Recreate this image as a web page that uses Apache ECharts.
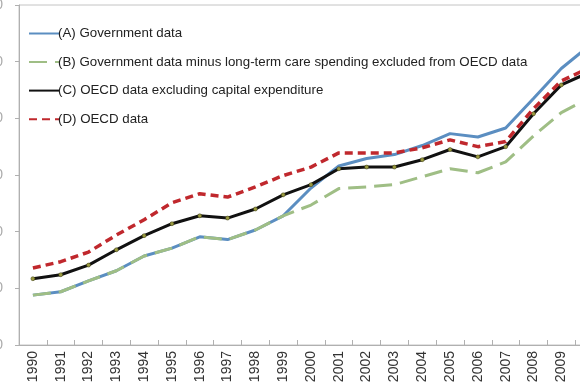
<!DOCTYPE html>
<html>
<head>
<meta charset="utf-8">
<script src="https://cdn.jsdelivr.net/npm/echarts@6/dist/echarts.min.js"></script>
<style>html,body{margin:0;padding:0;background:#fff;}#c{width:580px;height:386px;}</style>
</head>
<body>
<div id="c"></div>
<script>
var years = ['1990','1991','1992','1993','1994','1995','1996','1997','1998','1999','2000','2001','2002','2003','2004','2005','2006','2007','2008','2009','2010'];
var seriesNames = [
  '(A) Government data',
  '(B) Government data minus long-term care spending excluded from OECD data',
  '(C) OECD data excluding capital expenditure',
  '(D) OECD data'
];
var govData      = [2.88,2.94,3.13,3.31,3.57,3.71,3.91,3.86,4.03,4.28,4.77,5.16,5.29,5.36,5.52,5.73,5.67,5.83,6.35,6.88,7.28];
var govMinusLtc  = [2.88,2.94,3.13,3.31,3.57,3.71,3.91,3.86,4.03,4.28,4.47,4.76,4.79,4.83,4.97,5.11,5.04,5.23,5.69,6.10,6.36];
var oecdExclCap  = [3.17,3.24,3.41,3.68,3.93,4.14,4.28,4.24,4.40,4.65,4.83,5.11,5.14,5.14,5.27,5.45,5.32,5.50,6.08,6.59,6.81];
var oecdData     = [3.36,3.47,3.64,3.94,4.21,4.51,4.67,4.61,4.79,4.99,5.14,5.39,5.39,5.39,5.48,5.62,5.50,5.59,6.17,6.66,6.89];
var yMin = 2, yMax = 8, yStep = 1;

var chart = echarts.init(document.getElementById('c'), null, {renderer:'canvas'});
var font = '"Liberation Sans", Arial, sans-serif';
var hideSym = {opacity: 0};
chart.setOption({
  animation: false,
  backgroundColor: '#ffffff',
  grid: {left: 19, right: -23, top: 5, bottom: 41, containLabel: false, outerBoundsMode: 'none',
         show: true, borderColor: '#c4c4c4', borderWidth: 1, backgroundColor: 'transparent'},
  legend: {
    orient: 'vertical', left: 23, top: 22, itemWidth: 31, itemHeight: 14, itemGap: 15.5,
    textStyle: {fontFamily: font, fontSize: 13.3, color: '#222', padding: [0,0,0,-7]},
    data: [
      {name: seriesNames[0], itemStyle: hideSym},
      {name: seriesNames[1], itemStyle: hideSym},
      {name: seriesNames[2], itemStyle: hideSym},
      {name: seriesNames[3], itemStyle: hideSym}
    ]
  },
  xAxis: {
    type: 'category', data: years, boundaryGap: true,
    axisLine: {lineStyle: {color: '#b0b0b0', width: 1}},
    axisTick: {show: true, inside: true, length: 5, interval: 0, lineStyle: {color: '#b0b0b0'}},
    axisLabel: {interval: 0, rotate: 90, margin: 6, fontFamily: font, fontSize: 14, color: '#333', hideOverlap: false},
    splitLine: {show: false}
  },
  yAxis: {
    type: 'value', min: yMin, max: yMax, interval: yStep,
    axisLine: {show: true, lineStyle: {color: '#b0b0b0', width: 1}},
    axisTick: {show: true, length: 4, lineStyle: {color: '#b0b0b0'}},
    axisLabel: {margin: 16, fontFamily: font, fontSize: 14, color: '#aaa', formatter: function(v){return v.toFixed(1);}},
    splitLine: {show: false}
  },
  series: [
    {name: seriesNames[0], type: 'line', data: govData, symbol: 'none', z: 2,
     lineStyle: {color: '#5b8ec1', width: 3}, itemStyle: {color: '#5b8ec1'}},
    {name: seriesNames[1], type: 'line', data: govMinusLtc, symbol: 'none', z: 3,
     lineStyle: {color: '#9fbe85', width: 3, type: [18, 8]}, itemStyle: {color: '#9fbe85'}},
    {name: seriesNames[2], type: 'line', data: oecdExclCap, symbol: 'circle', symbolSize: 4, z: 4,
     lineStyle: {color: '#111', width: 3}, itemStyle: {color: '#9a9a40', borderColor: '#3a3a10', borderWidth: 0.5}},
    {name: seriesNames[3], type: 'line', data: oecdData, symbol: 'none', z: 5,
     lineStyle: {color: '#c0282d', width: 3.5, type: [8, 5]}, itemStyle: {color: '#c0282d'}}
  ]
});
</script>
</body>
</html>
